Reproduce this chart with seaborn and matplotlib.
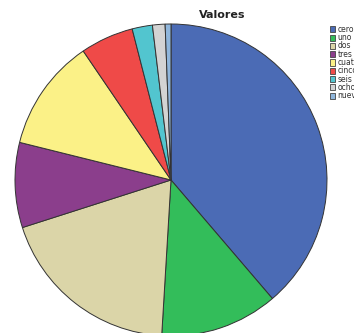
import matplotlib
matplotlib.use("Agg")
import matplotlib.pyplot as plt
from matplotlib.patches import Rectangle
import seaborn as sns

categories = ["cero", "uno", "dos", "tres", "cuatro", "cinco", "seis", "ocho", "nueve"]
values = [38.7, 12.2, 19.1, 8.8, 11.6, 5.5, 2.1, 1.3, 0.6]
colors = ["#4b6bb5", "#33bd5a", "#dbd5a8", "#8b3e8c", "#fbf187",
          "#ef4a48", "#52c5cf", "#d3d3d3", "#8fb6dc"]

sns.set_theme(style="white")
plt.rcParams["font.family"] = ["DejaVu Sans"]

W, H = 354, 333
fig = plt.figure(figsize=(W / 100, H / 100), dpi=100)
fig.patch.set_facecolor("white")

# pie axes: centre (171, 180) px, radius 156 px
cx, cy, r = 171, 180, 156
ax = fig.add_axes([(cx - r) / W, (H - cy - r) / H, 2 * r / W, 2 * r / H])
ax.pie(values, colors=sns.color_palette(colors), startangle=90, counterclock=False,
       radius=1.0, wedgeprops=dict(edgecolor="#333333", linewidth=0.7))
ax.set_xlim(-1, 1)
ax.set_ylim(-1, 1)
ax.set_aspect("equal")
ax.axis("off")

fig.text(222 / W, 1 - 15 / H, "Valores", ha="center", va="center",
         fontsize=8, fontweight="bold", color="#222222")

# legend entries down the right edge
y0, dy = 29.3, 8.3
for i, (lab, col) in enumerate(zip(categories, colors)):
    y = y0 + i * dy
    fig.patches.append(Rectangle(((329.5) / W, 1 - (y + 3) / H), 5.5 / W, 6 / H,
                                 transform=fig.transFigure, facecolor=col,
                                 edgecolor="#444444", linewidth=0.6))
    fig.text(337.5 / W, 1 - y / H, lab, ha="left", va="center",
             fontsize=5.5, color="#333333")

fig.savefig("out.png", dpi=100)
